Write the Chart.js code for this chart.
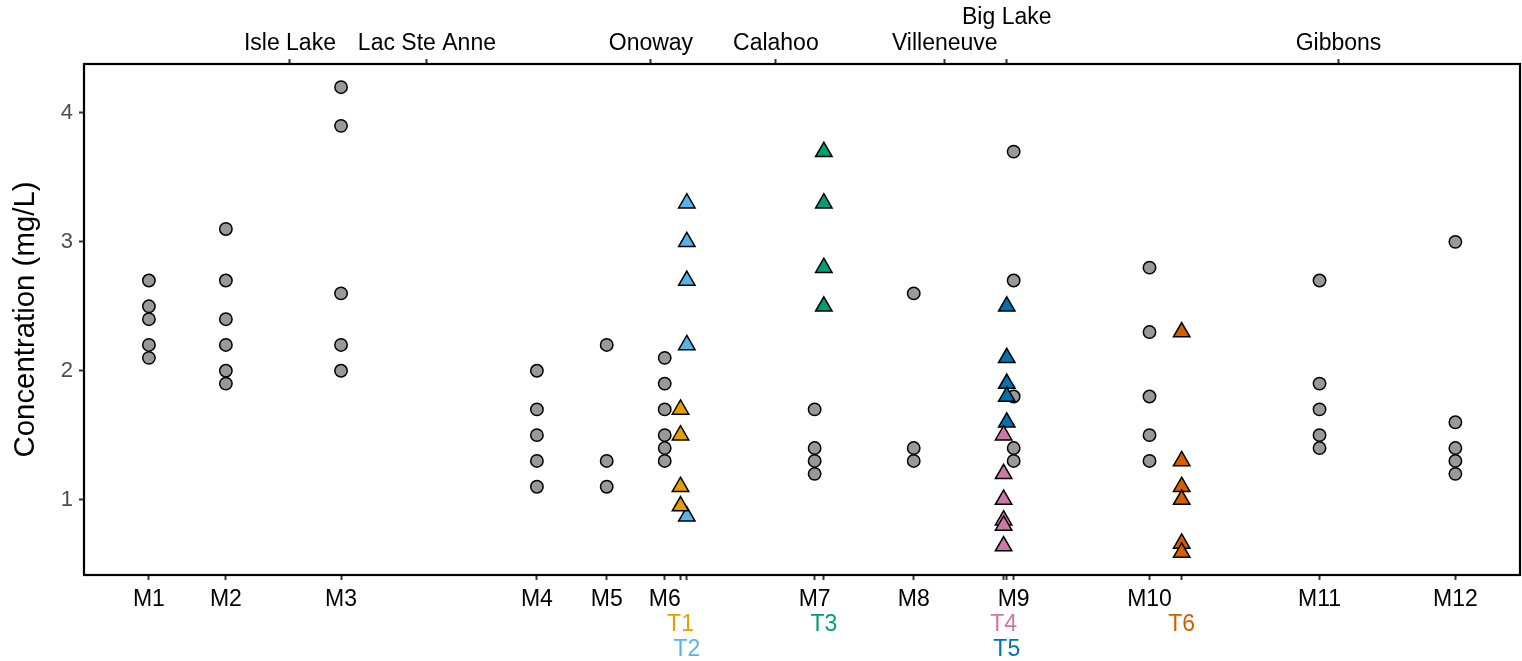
<!DOCTYPE html>
<html>
<head>
<meta charset="utf-8">
<script src="https://cdn.jsdelivr.net/npm/chart.js@4.4.1/dist/chart.umd.min.js"></script>
<style>
  html, body { margin: 0; padding: 0; background: #fff; }
  #grafico { display: block; }
</style>
</head>
<body>
<canvas id="grafico" width="1522" height="661"></canvas>
<script>
// ==========================
// DADOS
// ==========================
// main-stem sites: name, distance along river (km), concentrations (mg/L)
const mainSites = ['M1', 'M2', 'M3', 'M4', 'M5', 'M6', 'M7', 'M8', 'M9', 'M10', 'M11', 'M12'];
const mainKm = [22.6, 49.4, 89.5, 157.7, 182.0, 202.2, 254.4, 288.9, 323.7, 371.0, 430.2, 477.5];
const mainValues = [
    [2.7, 2.5, 2.4, 2.2, 2.1],
    [3.1, 2.7, 2.4, 2.2, 2.0, 1.9],
    [4.2, 3.9, 2.6, 2.2, 2.0],
    [2.0, 1.7, 1.5, 1.3, 1.1],
    [2.2, 1.3, 1.1],
    [2.1, 1.9, 1.7, 1.5, 1.4, 1.3],
    [1.7, 1.4, 1.3, 1.2],
    [2.6, 1.4, 1.3],
    [3.7, 2.7, 1.8, 1.4, 1.3],
    [2.8, 2.3, 1.8, 1.5, 1.3],
    [2.7, 1.9, 1.7, 1.5, 1.4],
    [3.0, 1.6, 1.4, 1.3, 1.2]
];

// tributaries
const tribSites = ['T1', 'T2', 'T3', 'T4', 'T5', 'T6'];
const tribKm = [207.7, 209.9, 257.6, 320.2, 321.3, 382.2];
const tribValues = [
    [1.7, 1.5, 1.1, 0.95],
    [3.3, 3.0, 2.7, 2.2, 0.87],
    [3.7, 3.3, 2.8, 2.5],
    [1.5, 1.2, 1.0, 0.84, 0.80, 0.64],
    [2.5, 2.1, 1.9, 1.8, 1.6],
    [2.3, 1.3, 1.1, 1.0, 0.66, 0.59]
];

// towns on the top axis
const towns = ['Isle Lake', 'Lac Ste Anne', 'Onoway', 'Calahoo', 'Villeneuve', 'Big Lake', 'Gibbons'];
const townKm = [71.7, 119.4, 197.4, 240.9, 299.7, 321.3, 436.8];

const yTicks = [1, 2, 3, 4];

// ==========================
// ESTILO
// ==========================
const tribColors = ['#E69F00', '#56B4E9', '#009E73', '#CC79A7', '#0072B2', '#D55E00'];
const tribRow = [1, 2, 1, 1, 2, 1];   // which label row under the axis
const townRaised = ['Big Lake'];      // labels lifted one line
const fonte = 'Liberation Sans, Arial, Helvetica, sans-serif';
const tickMarks = { display: true, drawOnChartArea: false, drawTicks: true, tickLength: 5, tickColor: '#333333', tickWidth: 2 };
const noGrid = { display: false, drawTicks: false };

// helper: fixed tick positions on a scale
function fixTicks(values) {
    return scale => { scale.ticks = values.map(v => ({ value: v })); };
}
function fixSize(prop, size) {
    return scale => { scale[prop] = size; };
}

// ticks of main bottom axis: all sites, labels only for M
const bottomTicks = mainKm.map((km, i) => ({ value: km, label: mainSites[i] }))
    .concat(tribKm.map(km => ({ value: km, label: '' })))
    .sort((a, b) => a.value - b.value);

function rowIdx(row) {
    return tribSites.map((s, i) => i).filter(i => tribRow[i] === row);
}
const row1 = rowIdx(1);
const row2 = rowIdx(2);

// datasets
const datasets = [{
    label: 'Main stem',
    data: mainValues.flatMap((vals, i) => vals.map(v => ({ x: mainKm[i], y: v }))),
    pointStyle: 'circle',
    pointRadius: 6.2,
    backgroundColor: '#999999',
    borderColor: '#000000',
    borderWidth: 1.5,
    order: 1
}].concat(tribSites.map((s, i) => ({
    label: s,
    data: tribValues[i].map(v => ({ x: tribKm[i], y: v })),
    pointStyle: 'triangle',
    pointRadius: 9.5,
    backgroundColor: tribColors[i],
    borderColor: '#000000',
    borderWidth: 1.5,
    order: 0
})));

// panel box
const boxPlugin = {
    id: 'boxPlugin',
    afterDraw(chart) {
        const a = chart.chartArea;
        const ctx = chart.ctx;
        ctx.save();
        ctx.strokeStyle = '#000000';
        ctx.lineWidth = 2.2;
        ctx.strokeRect(a.left, a.top, a.right - a.left, a.bottom - a.top);
        ctx.restore();
    }
};

const xRange = { min: 0, max: 500 };

new Chart(document.getElementById('grafico'), {
    type: 'scatter',
    data: { datasets: datasets },
    plugins: [boxPlugin],
    options: {
        responsive: false,
        animation: false,
        layout: { autoPadding: false, padding: { left: 0, right: 2, top: 0, bottom: 0 } },
        plugins: {
            legend: { display: false },
            tooltip: { enabled: false }
        },
        scales: {
            x: {
                type: 'linear', position: 'bottom', weight: 0, ...xRange,
                grid: tickMarks,
                border: { display: false },
                afterBuildTicks: fixTicks(bottomTicks.map(t => t.value)),
                afterFit: fixSize('height', 33),
                ticks: {
                    autoSkip: false, maxRotation: 0, minRotation: 0, padding: 6,
                    color: '#000000', font: { family: fonte, size: 23 },
                    callback: (v, i) => bottomTicks[i].label
                }
            },
            xT1: {
                type: 'linear', position: 'bottom', weight: 1, ...xRange,
                grid: noGrid,
                border: { display: false },
                afterBuildTicks: fixTicks(row1.map(i => tribKm[i])),
                afterFit: fixSize('height', 23),
                ticks: {
                    autoSkip: false, maxRotation: 0, minRotation: 0, padding: 3,
                    font: { family: fonte, size: 23 },
                    color: c => tribColors[row1[c.index]],
                    callback: (v, i) => tribSites[row1[i]]
                }
            },
            xT2: {
                type: 'linear', position: 'bottom', weight: 2, ...xRange,
                grid: noGrid,
                border: { display: false },
                afterBuildTicks: fixTicks(row2.map(i => tribKm[i])),
                afterFit: fixSize('height', 30),
                ticks: {
                    autoSkip: false, maxRotation: 0, minRotation: 0, padding: 5,
                    font: { family: fonte, size: 23 },
                    color: c => tribColors[row2[c.index]],
                    callback: (v, i) => tribSites[row2[i]]
                }
            },
            xTop: {
                type: 'linear', position: 'top', ...xRange,
                grid: tickMarks,
                border: { display: false },
                afterBuildTicks: fixTicks(townKm),
                afterFit: fixSize('height', 64),
                ticks: {
                    autoSkip: false, maxRotation: 0, minRotation: 0, padding: 2,
                    color: '#000000', font: { family: fonte, size: 23, lineHeight: 1.13 },
                    callback: (v, i) => townRaised.includes(towns[i]) ? [towns[i], ''] : towns[i]
                }
            },
            y: {
                type: 'linear', position: 'left', min: 0.415, max: 4.38,
                grid: tickMarks,
                border: { display: false },
                afterBuildTicks: fixTicks(yTicks),
                afterFit: fixSize('width', 84),
                title: {
                    display: true,
                    text: 'Concentration (mg/L)',
                    color: '#000000',
                    font: { family: fonte, size: 29.4 },
                    padding: { top: 8, bottom: 0 }
                },
                ticks: {
                    padding: 6,
                    color: '#4D4D4D', font: { family: fonte, size: 22 },
                    callback: v => String(v)
                }
            }
        }
    }
});
</script>
</body>
</html>
